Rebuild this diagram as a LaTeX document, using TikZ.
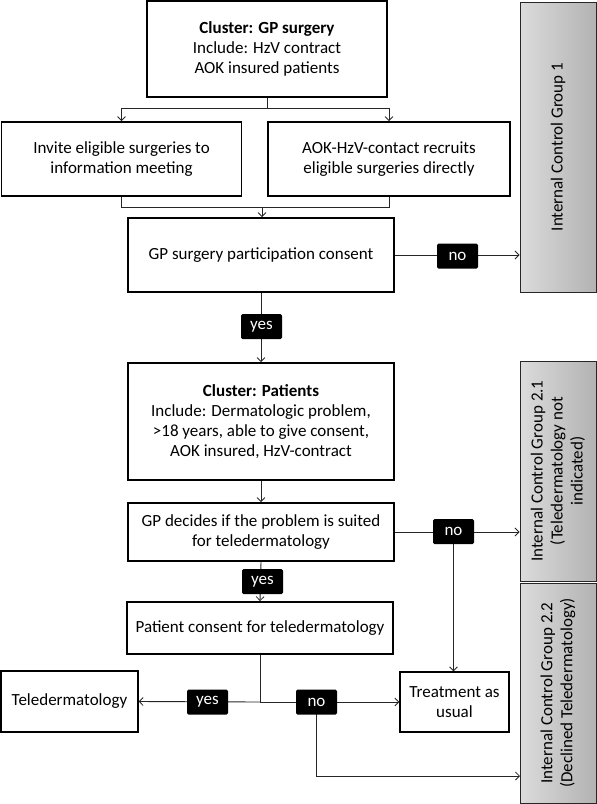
\documentclass[tikz,border=0pt]{standalone}
\usepackage{fontspec}
\setmainfont{Carlito}
\usetikzlibrary{arrows.meta}
\pgfdeclarelayer{bg}
\pgfsetlayers{bg,main}
\begin{document}
\begin{tikzpicture}[x=1pt,y=-1pt,
  txt/.style={font=\fontsize{17}{20}\selectfont},
  box/.style={txt,draw,line width=1.8pt,align=center,inner sep=0pt,fill=white},
  thinbox/.style={box,line width=1.3pt},
  grp/.style={draw=black!85,line width=0.9pt,left color=black!14,right color=black!30,inner sep=0pt},
  lab/.style={txt,fill=black,text=white,rounded corners=1.5pt,minimum width=41pt,minimum height=25pt,inner sep=0pt},
  conn/.style={line width=0.9pt,black!85},
  arr/.style={conn,-{Straight Barb[length=4pt,width=8pt,line width=0.8pt]}}
]
\useasboundingbox (0,0) rectangle (597,804);

% main boxes
\node[box,minimum width=240pt,minimum height=96pt] (top) at (267,49)
  {\textbf{Cluster: GP surgery}\\Include: HzV contract\\AOK insured patients};
\node[box,minimum width=240pt,minimum height=74pt] (inv) at (121.5,159)
  {Invite eligible surgeries to\\information meeting};
\node[box,minimum width=242pt,minimum height=74pt] (aok) at (389,159)
  {AOK-HzV-contact recruits\\eligible surgeries directly};
\node[box,minimum width=266pt,minimum height=74pt] (cons) at (261,255)
  {GP surgery participation consent};
\node[box,minimum width=266pt,minimum height=117pt] (pat) at (261,421.5)
  {\textbf{Cluster: Patients}\\Include: Dermatologic problem,\\{>}18 years, able to give consent,\\AOK insured, HzV-contract};
\node[box,minimum width=266pt,minimum height=58pt] (gpd) at (261,532)
  {GP decides if the problem is suited\\for teledermatology};
\node[box,minimum width=266pt,minimum height=52pt] (pc) at (260,628)
  {Patient consent for teledermatology};
\node[thinbox,minimum width=137pt,minimum height=61pt] (tele) at (69.5,701.5)
  {Teledermatology};
\node[thinbox,minimum width=109pt,minimum height=60pt] (tau) at (454.5,702)
  {Treatment as\\usual};

% control groups
\node[grp,minimum width=76pt,minimum height=290pt] (g1) at (558,147) {};
\node[txt,rotate=90,align=center] at (g1.center) {Internal Control Group 1};
\node[grp,minimum width=76pt,minimum height=220pt] (g21) at (558,471) {};
\node[txt,rotate=90,align=center] at (g21.center) {Internal Control Group 2.1\\(Teledermatology not\\indicated)};
\node[grp,minimum width=76pt,minimum height=220pt] (g22) at (558,693) {};
\node[txt,rotate=90,align=center] at (g22.center) {Internal Control Group 2.2\\(Declined Teledermatology)};

% labels
\node[lab] (no1) at (457.5,256) {no};
\node[lab] (yes1) at (261.5,326.5) {yes};
\node[lab] (no2) at (453.5,531.5) {no};
\node[lab] (yes2) at (262.5,581.5) {yes};
\node[lab] (yes3) at (207.5,702) {yes};
\node[lab] (no3) at (316.5,702) {no};

% connectors
\coordinate (split) at (267,108);
\coordinate (merge) at (262,207);
\coordinate (j) at (260,702);
\coordinate (g22in) at (520,776);
\begin{pgfonlayer}{bg}
\draw[conn] (top.south) -- (split);
\draw[arr] (split) -| (inv.north);
\draw[arr] (split) -| (aok.north);
\draw[conn] (inv.south) |- (merge);
\draw[conn] (aok.south) |- (merge);
\draw[arr] (merge) -- (merge |- cons.north);
\draw[arr] (cons.east) -- (cons.east -| g1.west);
\draw[arr] (cons.south) -- (pat.north);
\draw[arr] (pat.south) -- (gpd.north);
\draw[arr] (gpd.east) -- (gpd.east -| g21.west);
\draw[arr] (no2.center) -- (no2.center |- tau.north);
\draw[arr] (gpd.south) -- (pc.north);
\draw[conn] (pc.south) -- (j);
\draw[arr] (j) -- (tele.east);
\draw[arr] (j) -- (tau.west);
\draw[arr] (no3.center) |- (g22in);
\end{pgfonlayer}
\end{tikzpicture}
\end{document}
